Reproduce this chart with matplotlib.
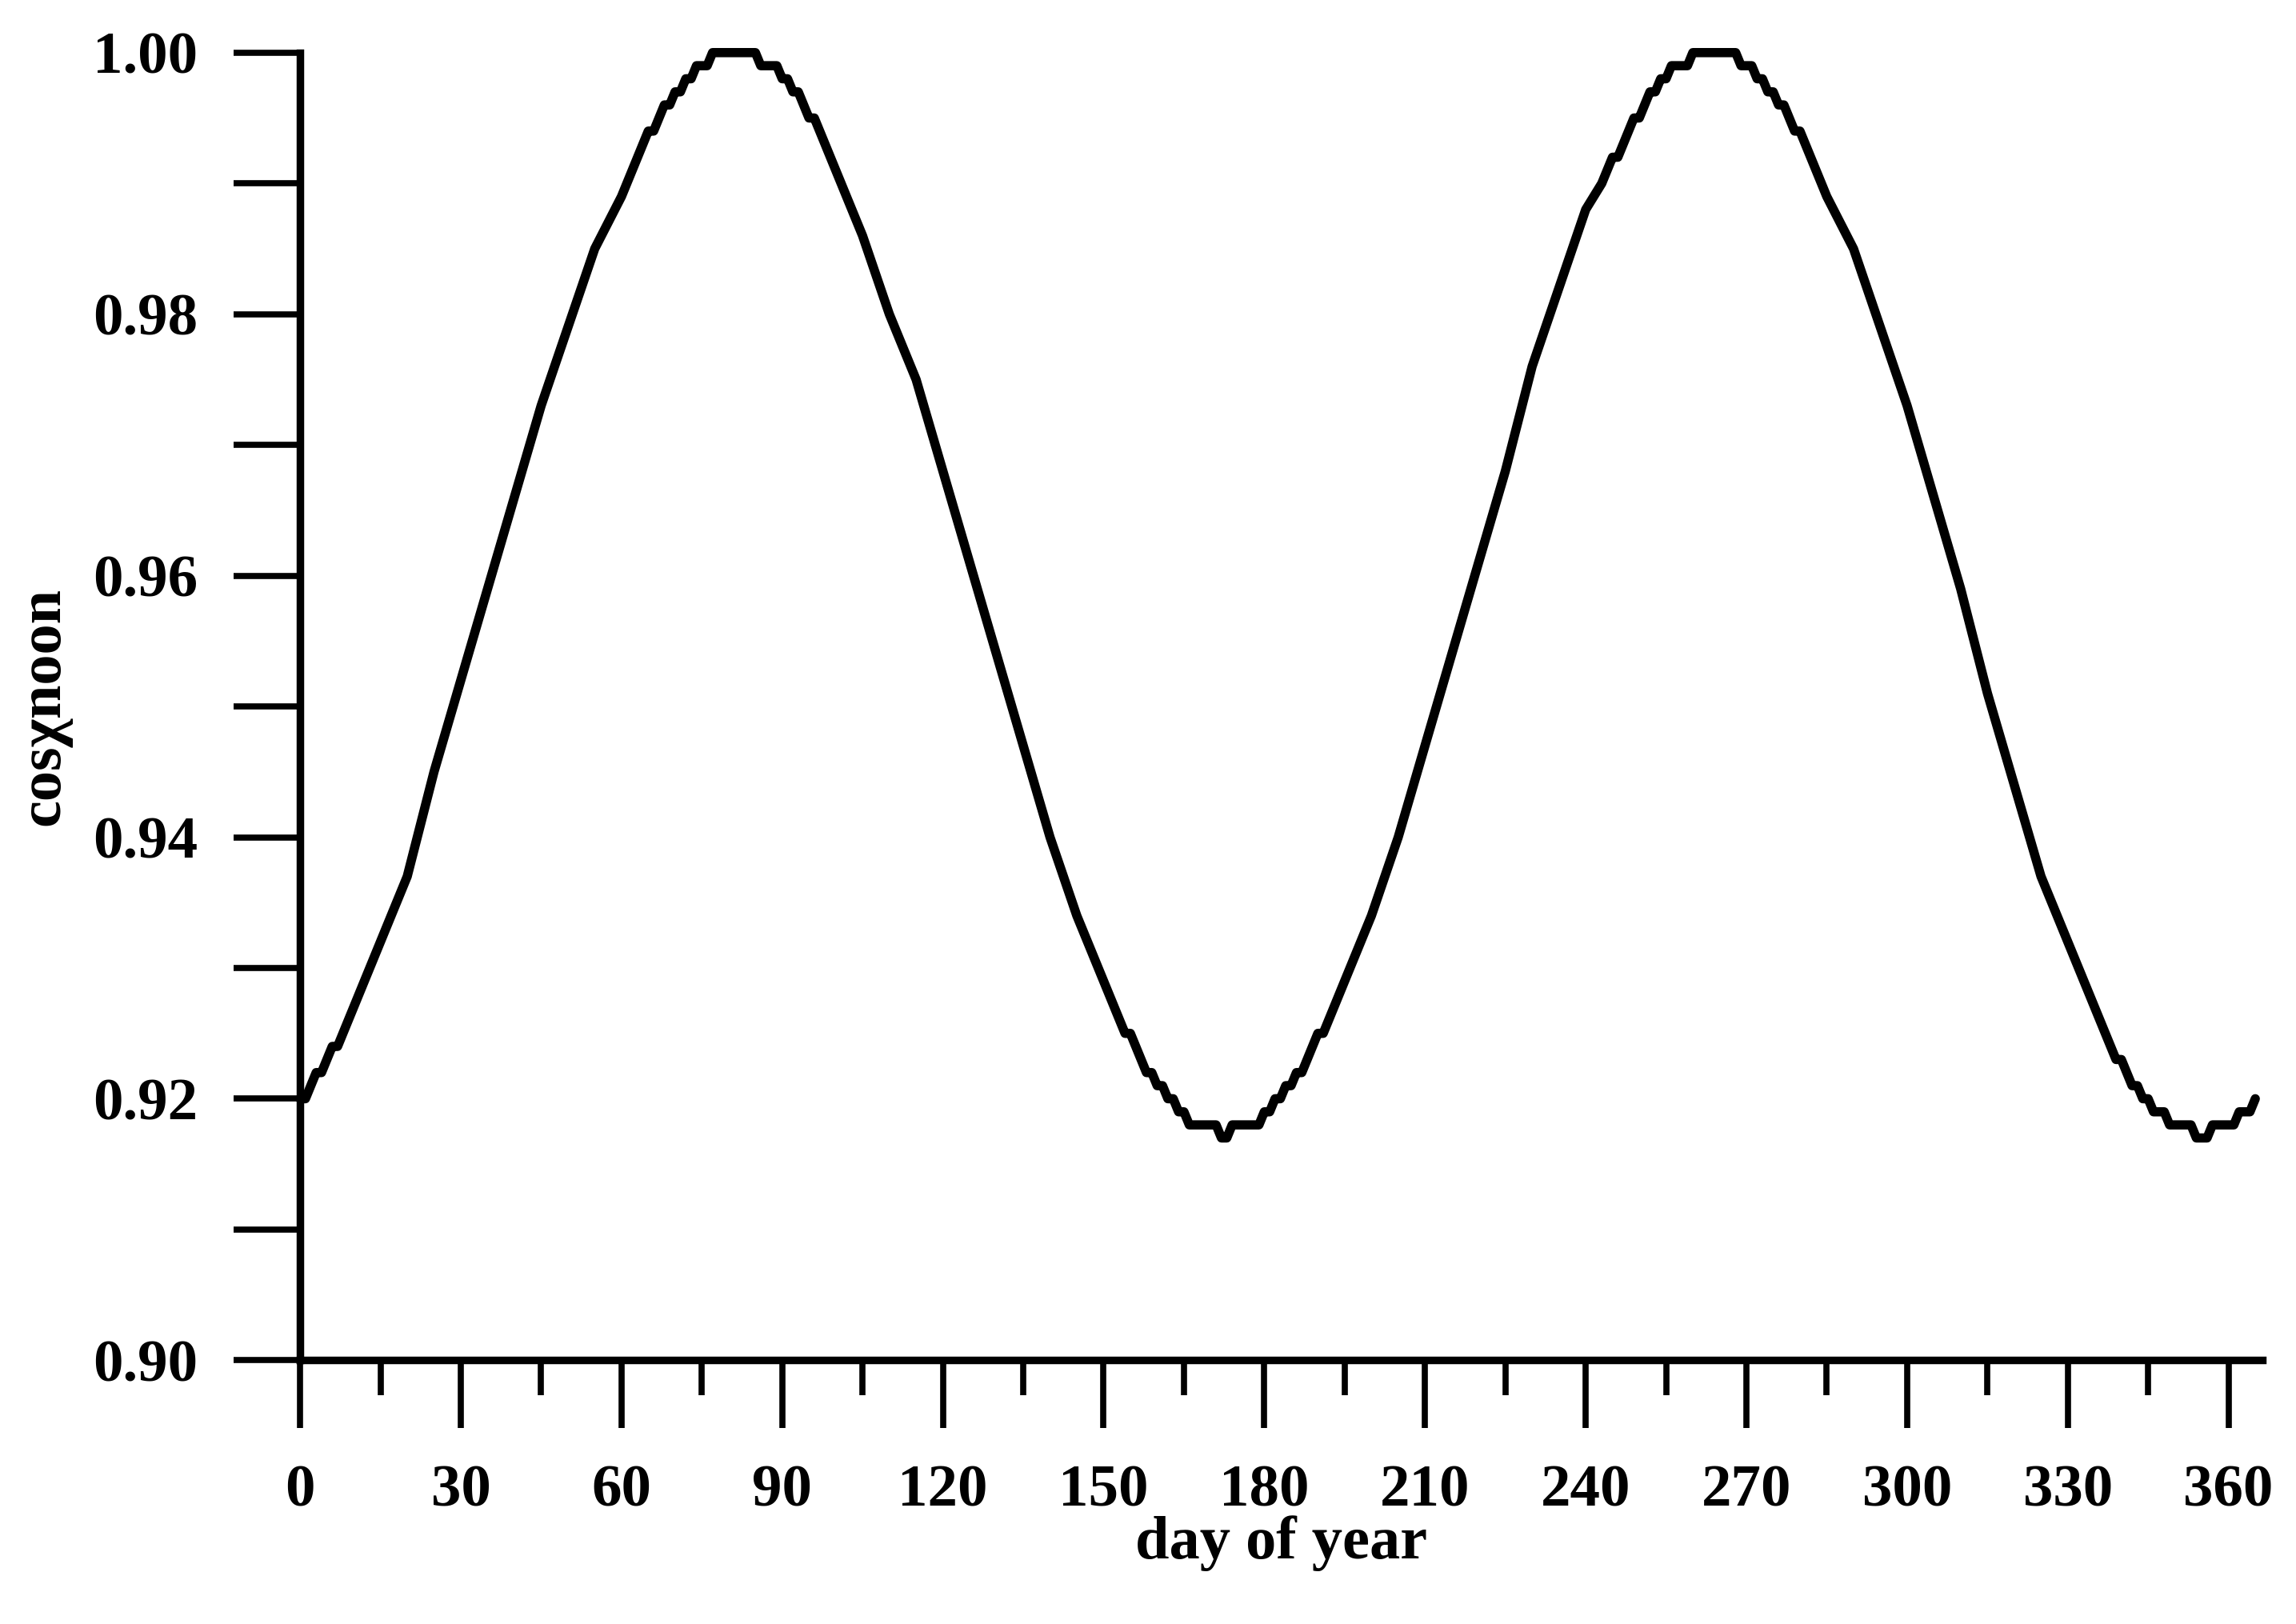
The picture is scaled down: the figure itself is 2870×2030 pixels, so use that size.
import matplotlib
matplotlib.use('Agg')
import matplotlib.pyplot as plt
from matplotlib.ticker import FormatStrFormatter

# cos of the noon solar zenith angle (day of year)
days = [0, 1, 2, 3, 4, 5, 6, 7, 8, 10, 15, 20, 25, 30, 35, 40, 45, 50, 55,
        60, 61, 62, 63, 64, 65, 66, 67, 68, 69, 70, 71, 72, 73, 74, 76, 77,
        85, 86, 89, 90, 91, 92, 93, 94, 95, 96, 97, 98, 99, 100, 101, 102,
        105, 110, 115, 120, 125, 130, 135, 140, 145, 150, 151, 152, 153, 154,
        155, 156, 157, 158, 159, 160, 161, 162, 163, 164, 165, 166, 171, 172,
        173, 174, 179, 180, 181, 182, 183, 184, 185, 186, 187, 188, 189, 190,
        191, 192, 193, 194, 195, 200, 205, 210, 215, 220, 225, 230, 235, 240,
        243, 244, 245, 246, 247, 248, 249, 250, 251, 252, 253, 254, 255, 256,
        259, 260, 268, 269, 271, 272, 273, 274, 275, 276, 277, 278, 279, 280,
        281, 282, 283, 284, 285, 290, 295, 300, 305, 310, 315, 320, 325, 330,
        335, 336, 337, 338, 339, 340, 341, 342, 343, 344, 345, 346, 348, 349,
        353, 354, 356, 357, 361, 362, 364, 365]

cos_chi_noon = [0.920, 0.920, 0.921, 0.922, 0.922, 0.923, 0.924, 0.924, 0.925,
                0.927, 0.932, 0.937, 0.945, 0.952, 0.959, 0.966, 0.973, 0.979,
                0.985, 0.989, 0.990, 0.991, 0.992, 0.993, 0.994, 0.994, 0.995,
                0.996, 0.996, 0.997, 0.997, 0.998, 0.998, 0.999, 0.999, 1.000,
                1.000, 0.999, 0.999, 0.998, 0.998, 0.997, 0.997, 0.996, 0.995,
                0.995, 0.994, 0.993, 0.992, 0.991, 0.990, 0.989,
                0.986, 0.980, 0.975, 0.968, 0.961, 0.954, 0.947, 0.940, 0.934,
                0.929, 0.928, 0.927, 0.926, 0.925, 0.925, 0.924, 0.923, 0.922,
                0.922, 0.921, 0.921, 0.920, 0.920, 0.919, 0.919, 0.918, 0.918,
                0.917, 0.917, 0.918, 0.918, 0.919, 0.919, 0.920, 0.920, 0.921,
                0.921, 0.922, 0.922, 0.923, 0.924, 0.925, 0.925, 0.926, 0.927,
                0.928, 0.929, 0.934, 0.940, 0.947, 0.954, 0.961, 0.968, 0.976,
                0.982, 0.988, 0.990, 0.991, 0.992, 0.992, 0.993, 0.994, 0.995,
                0.995, 0.996, 0.997, 0.997, 0.998, 0.998, 0.999, 0.999, 1.000,
                1.000, 0.999, 0.999, 0.998, 0.998, 0.997, 0.997, 0.996, 0.996,
                0.995, 0.994, 0.994, 0.993, 0.992, 0.991, 0.990, 0.989, 0.985,
                0.979, 0.973, 0.966, 0.959, 0.951, 0.944, 0.937, 0.932, 0.927,
                0.926, 0.925, 0.924, 0.923, 0.923, 0.922, 0.921, 0.921, 0.920,
                0.920, 0.919, 0.919, 0.918, 0.918, 0.917, 0.917, 0.918, 0.918,
                0.919, 0.919, 0.920]

x_major = list(range(0, 361, 30))
x_minor = list(range(15, 360, 30))
y_major = [0.90, 0.92, 0.94, 0.96, 0.98, 1.00]
y_minor = [0.91, 0.93, 0.95, 0.97, 0.99]

plt.rcParams['font.family'] = ['Liberation Serif', 'DejaVu Serif']
plt.rcParams['font.weight'] = 'bold'

fig = plt.figure(figsize=(28.7, 20.3), dpi=100)
ax = fig.add_axes([0.1307, 0.1624, 0.8546, 0.8052])

ax.plot(days, cos_chi_noon, color='black', lw=8.3,
        solid_joinstyle='round', solid_capstyle='round', clip_on=False)

ax.set_xlim(0, 366.3)
ax.set_ylim(0.90, 1.00)

for side in ['top', 'right']:
    ax.spines[side].set_visible(False)
for side in ['left', 'bottom']:
    ax.spines[side].set_linewidth(6.8)

ax.set_xticks(x_major)
ax.set_xticks(x_minor, minor=True)
ax.set_yticks(y_major)
ax.set_yticks(y_minor, minor=True)
ax.yaxis.set_major_formatter(FormatStrFormatter('%.2f'))

ax.tick_params(axis='x', which='major', length=61, width=5.5, pad=33, labelsize=54)
ax.tick_params(axis='x', which='minor', length=32, width=5.5)
ax.tick_params(axis='y', which='both', length=60, width=5.5, pad=32, labelsize=54)

ax.set_xlabel('day of year', fontsize=55, fontweight='bold', va='center')
ax.xaxis.set_label_coords(0.5, -0.1400)
ax.set_ylabel('cosχnoon', fontsize=55, fontweight='bold', va='center')
ax.yaxis.set_label_coords(-0.1305, 0.5)

fig.savefig('out.png', dpi=100)
